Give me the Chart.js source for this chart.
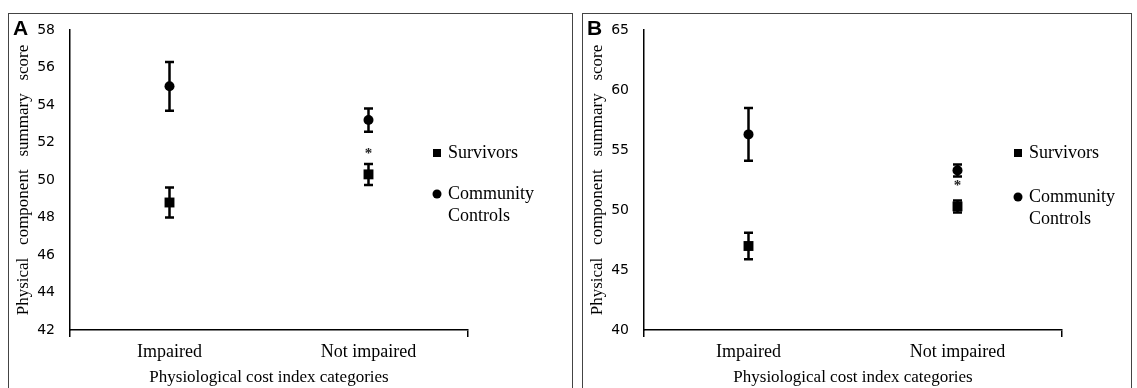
<!DOCTYPE html>
<html>
<head>
<meta charset="utf-8">
<script src="https://cdn.jsdelivr.net/npm/chart.js@4.4.0/dist/chart.umd.min.js"></script>
<style>
  html, body { margin: 0; padding: 0; background: #fff; overflow: hidden; }
  body { width: 1137px; height: 388px; position: relative; }
  .panel { position: absolute; top: 13px; height: 400px; border: 1px solid #444; box-sizing: border-box; }
  #panelA { left: 8px; width: 565px; }
  #panelB { left: 582px; width: 550px; }
  .panel canvas { position: absolute; left: 0; top: 0; }
  .tag { position: absolute; top: 2px; left: 4px; font: bold 21px "Liberation Sans", Arial, sans-serif; color: #000; }
</style>
</head>
<body>
<div class="panel" id="panelA">
  <canvas id="chartA" width="563" height="374"></canvas>
  <div class="tag">A</div>
</div>
<div class="panel" id="panelB">
  <canvas id="chartB" width="548" height="374"></canvas>
  <div class="tag">B</div>
</div>
<script>
// categories and series
const categories = ["Impaired", "Not impaired"];
const seriesNames = ["Survivors", ["Community", "Controls"]];

// panel A
const survivorsA = [48.8, 50.3];
const survivorsErrA = [0.8, 0.56];
const controlsA = [55.0, 53.2];
const controlsErrA = [1.3, 0.62];
const significantA = [false, true];
const yTicksA = [42, 58, 2]; // min, max, step

// panel B
const survivorsB = [47.0, 50.3];
const survivorsErrB = [1.1, 0.5];
const controlsB = [56.3, 53.3];
const controlsErrB = [2.2, 0.5];
const significantB = [false, true];
const yTicksB = [40, 65, 5];

const serif = "'Liberation Serif', 'Times New Roman', serif";

// whiskers drawn from the dataset values through the y scale
const errorBars = {
  id: "errorBars",
  beforeDatasetsDraw(chart) {
    const ctx = chart.ctx;
    const y = chart.scales.y;
    ctx.save();
    ctx.strokeStyle = "#000";
    ctx.lineWidth = 2.5;
    chart.data.datasets.forEach((ds, di) => {
      const meta = chart.getDatasetMeta(di);
      meta.data.forEach((pt, i) => {
        const top = y.getPixelForValue(ds.data[i] + ds.errors[i]);
        const bot = y.getPixelForValue(ds.data[i] - ds.errors[i]);
        ctx.beginPath();
        ctx.moveTo(pt.x, top); ctx.lineTo(pt.x, bot);
        ctx.moveTo(pt.x - 4.5, top); ctx.lineTo(pt.x + 4.5, top);
        ctx.moveTo(pt.x - 4.5, bot); ctx.lineTo(pt.x + 4.5, bot);
        ctx.stroke();
      });
    });
    ctx.restore();
  },
  afterDatasetsDraw(chart, args, opts) {
    // significance asterisk above the survivors whisker
    const ctx = chart.ctx;
    const y = chart.scales.y;
    const ds = chart.data.datasets[0];
    const meta = chart.getDatasetMeta(0);
    ctx.save();
    ctx.fillStyle = "#222";
    ctx.font = "bold 15px " + serif;
    ctx.textAlign = "center";
    ctx.textBaseline = "middle";
    opts.sig.forEach((s, i) => {
      if (!s) return;
      const top = y.getPixelForValue(ds.data[i] + ds.errors[i]);
      ctx.fillText("*", meta.data[i].x, top - opts.gap);
    });
    ctx.restore();
  }
};

// legend with the marker beside the first line of each entry
const sideLegend = {
  id: "sideLegend",
  afterDraw(chart, args, opts) {
    const ctx = chart.ctx;
    ctx.save();
    ctx.fillStyle = "#000";
    ctx.font = "18px " + serif;
    ctx.textAlign = "left";
    ctx.textBaseline = "middle";
    let yy = opts.y;
    seriesNames.forEach((name, i) => {
      if (i === 0) {
        ctx.fillRect(opts.x - 4, yy - 4, 8, 8);
      } else {
        ctx.beginPath();
        ctx.arc(opts.x, yy, 4.5, 0, Math.PI * 2);
        ctx.fill();
      }
      const lines = Array.isArray(name) ? name : [name];
      lines.forEach((t, k) => ctx.fillText(t, opts.x + 11, yy + k * 22));
      yy += opts.gap;
    });
    ctx.restore();
  }
};

function makeChart(id, surv, survErr, ctrl, ctrlErr, sig, yt, rightPad, legendPos, starGap) {
  return new Chart(document.getElementById(id), {
    type: "line",
    data: {
      labels: categories,
      datasets: [
        { label: "Survivors", data: surv, errors: survErr, showLine: false,
          pointStyle: "rect", pointRadius: 7, pointHoverRadius: 7,
          backgroundColor: "#000", borderColor: "#000", borderWidth: 0 },
        { label: "Community Controls", data: ctrl, errors: ctrlErr, showLine: false,
          pointStyle: "circle", pointRadius: 5, pointHoverRadius: 5,
          backgroundColor: "#000", borderColor: "#000", borderWidth: 0 }
      ]
    },
    options: {
      responsive: false,
      animation: false,
      events: [],
      layout: { padding: { left: 0, right: rightPad, top: 16, bottom: 0 } },
      plugins: {
        legend: { display: false },
        tooltip: { enabled: false },
        errorBars: { sig: sig, gap: starGap },
        sideLegend: legendPos
      },
      scales: {
        x: {
          offset: true,
          ticks: { color: "#000", font: { family: serif, size: 18 }, padding: 4 },
          grid: {
            offset: true, drawOnChartArea: false, drawTicks: true, tickLength: 7,
            lineWidth: 1.5,
            color: c => c.index === 1 ? "rgba(0,0,0,0)" : "#000"
          },
          border: { display: true, color: "#000", width: 1.5 },
          title: { display: true, text: "Physiological cost index categories", color: "#000",
                   font: { family: serif, size: 17 }, padding: 0 },
          afterFit: s => { s.height = 58; }
        },
        y: {
          min: yt[0], max: yt[1],
          ticks: { stepSize: yt[2], color: "#000", padding: 5,
                   font: { family: "'DejaVu Sans', Verdana, sans-serif", size: 14 } },
          grid: { display: false, drawTicks: true, tickLength: 10 },
          border: { display: true, color: "#000", width: 1.5 },
          title: { display: true, text: "Physical   component   summary   score", color: "#000",
                   font: { family: serif, size: 17 }, padding: { top: 4, bottom: 0 } },
          afterFit: s => { s.width = 61; }
        }
      }
    },
    plugins: [errorBars, sideLegend]
  });
}

makeChart("chartA", survivorsA, survivorsErrA, controlsA, controlsErrA, significantA, yTicksA,
          104, { x: 428, y: 139, gap: 41 }, 10);
makeChart("chartB", survivorsB, survivorsErrB, controlsB, controlsErrB, significantB, yTicksB,
          69, { x: 435, y: 139, gap: 44 }, 14);
</script>
</body>
</html>
